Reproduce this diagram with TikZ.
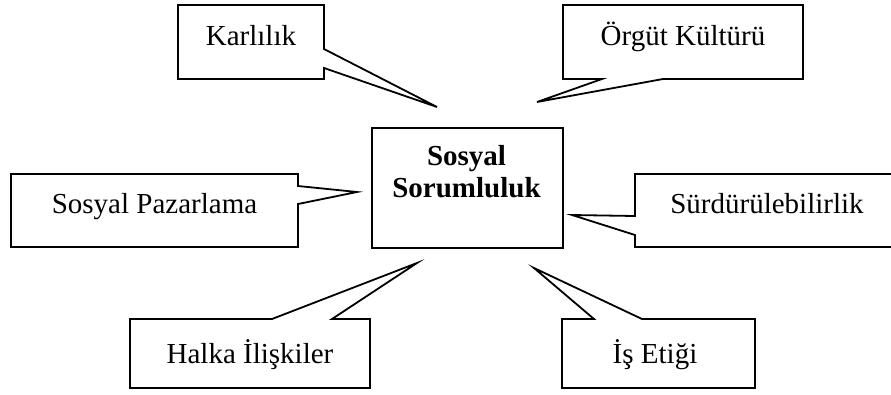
\documentclass[tikz,border=0pt]{standalone}
\usepackage{fontspec}
\setmainfont{Liberation Serif}
\begin{document}
\begin{tikzpicture}[x=1pt, y=-1pt,
  outline/.style={draw=black, line width=1.8pt, line join=miter, fill=white},
  label/.style={anchor=base, inner sep=0pt, font=\fontsize{29}{32}\selectfont},
  core/.style={draw=black, line width=1.8pt, minimum width=191pt, minimum height=120pt,
    inner sep=0pt, anchor=north west}]
  \useasboundingbox (0,0) rectangle (891,394);
  \clip (0,0) rectangle (891,394);

  % central box; the base anchor of the two-line title is its last line
  \node[core] (core) at (371,127) {};
  \node[label, font=\fontsize{29}{32}\selectfont\bfseries, align=center] (coreT) at (466.5,197)
    {Sosyal\\Sorumluluk};

  % pointer tips of the callouts
  \coordinate (tipKar) at (437,107);
  \coordinate (tipOrg) at (537,102);
  \coordinate (tipPaz) at (357,192);
  \coordinate (tipSur) at (572,215);
  \coordinate (tipHal) at (417,263);
  \coordinate (tipEti) at (534,268);

  % callouts
  \draw[outline] (178,5) -- (324,5) -- (324,49) -- (tipKar) -- (324,68) -- (324,79) -- (178,79) -- cycle;
  \node[label] (kar) at (251,45) {Karlılık};

  \draw[outline] (563,5) -- (803,5) -- (803,79) -- (663,79) -- (tipOrg) -- (602,79) -- (563,79) -- cycle;
  \node[label] (org) at (683,45) {Örgüt Kültürü};

  \draw[outline] (11,174) -- (298,174) -- (298,186) -- (tipPaz) -- (298,204) -- (298,247) -- (11,247) -- cycle;
  \node[label] (paz) at (154.5,213) {Sosyal Pazarlama};

  \draw[outline] (635,174) -- (900,174) -- (900,247) -- (635,247) -- (635,235) -- (tipSur) -- (635,216) -- cycle;
  \node[label] (sur) at (767,213) {Sürdürülebilirlik};

  \draw[outline] (130,319) -- (272,319) -- (tipHal) -- (332,319) -- (370,319) -- (370,388) -- (130,388) -- cycle;
  \node[label] (hal) at (250,363) {Halka İlişkiler};

  \draw[outline] (562,319) -- (594,319) -- (tipEti) -- (642,319) -- (755,319) -- (755,388) -- (562,388) -- cycle;
  \node[label] (eti) at (655,363) {İş Etiği};
\end{tikzpicture}
\end{document}
